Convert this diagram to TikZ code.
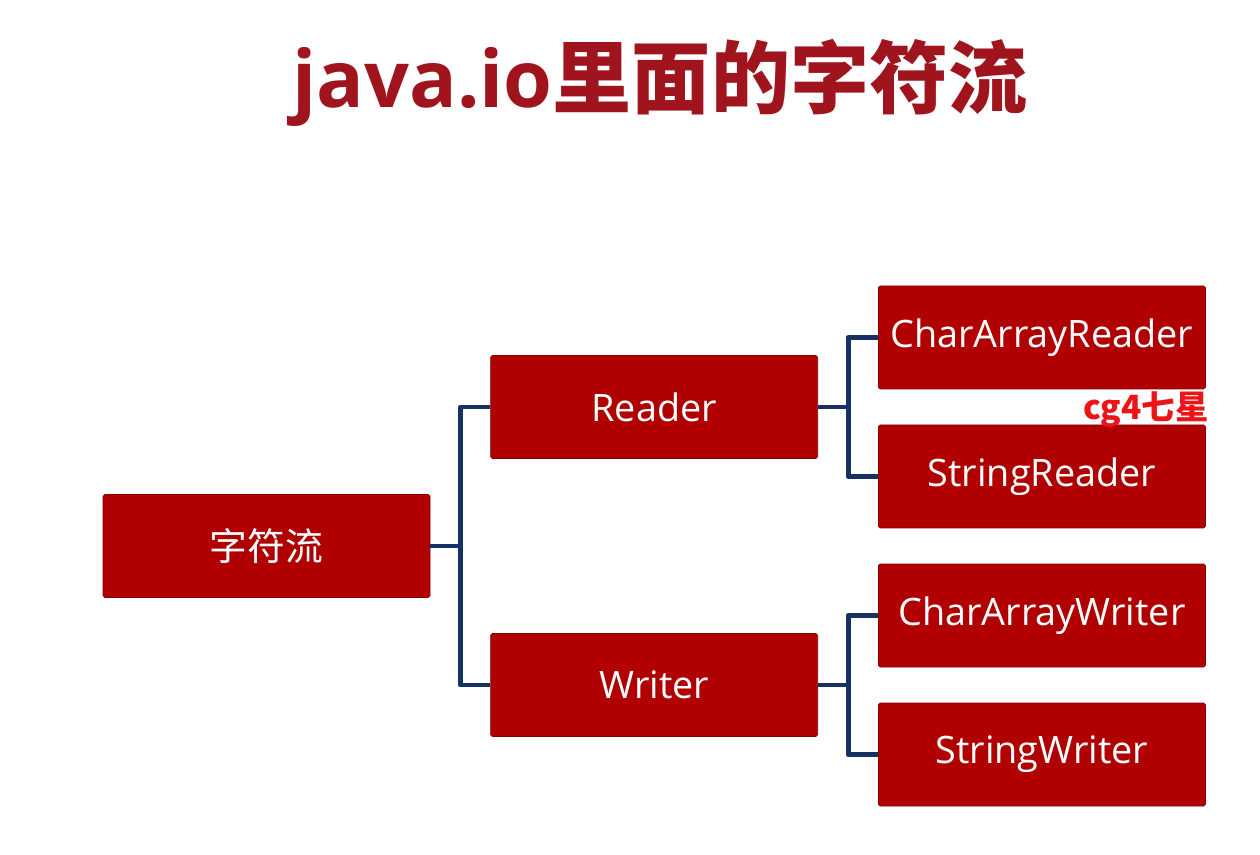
\documentclass[tikz,border=0pt]{standalone}
\usepackage{fontspec}
\setmainfont{Open Sans}
\newfontfamily\cjk{Noto Sans CJK SC}
\usetikzlibrary{positioning}
\definecolor{red2}{RGB}{176, 0, 2}
\definecolor{titlered}{RGB}{160, 20, 30}
\definecolor{navy2}{RGB}{22, 50, 100}
\definecolor{mark2}{RGB}{235, 20, 25}
\def\thickness{2.8pt}
\tikzset{
box/.style={draw=red2!75!black, fill=red2, text=white, rounded corners=1pt,
	minimum width=6.54cm, minimum height=2.06cm, inner sep=0pt,
	font=\fontsize{21.5}{25}\selectfont},
link/.style={navy2, line width=\thickness, line join=round},
}

\begin{document}
\begin{tikzpicture}[node distance=1.2cm]
\useasboundingbox (0,0) rectangle (25.2,-17.1);
%Place the nodes
\node[titlered, font=\fontsize{45}{50}\selectfont\bfseries] (title) at (13.2,-1.65)
	{java.io{\cjk 里面的字符流}};
\node[box] (root) at (5.33,-10.92) {\cjk 字符流};
\node[box, right=of root, yshift=2.78cm] (reader) {Reader};
\node[box, right=of root, yshift=-2.78cm] (writer) {Writer};
\node[box, right=of reader, yshift=1.39cm] (car) {CharArrayReader};
\node[box, right=of reader, yshift=-1.39cm] (sr) {StringReader};
\node[box, right=of writer, yshift=1.39cm] (caw) {CharArrayWriter};
\node[box, right=of writer, yshift=-1.39cm] (sw) {StringWriter};
\node[mark2, font=\cjk\bfseries\fontsize{19}{22}\selectfont] (tag) at (22.92,-8.2) {cg4七星};

%
\coordinate (j0) at ([xshift=0.6cm]root.east);
\draw[link] (root.east) -- (j0);
\draw[link] (reader.west) -| (j0) |- (writer.west);

%
\coordinate (j1) at ([xshift=0.6cm]reader.east);
\draw[link] (reader.east) -- (j1);
\draw[link] (car.west) -| (j1) |- (sr.west);

%
\coordinate (j2) at ([xshift=0.6cm]writer.east);
\draw[link] (writer.east) -- (j2);
\draw[link] (caw.west) -| (j2) |- (sw.west);

\end{tikzpicture}
\end{document}
